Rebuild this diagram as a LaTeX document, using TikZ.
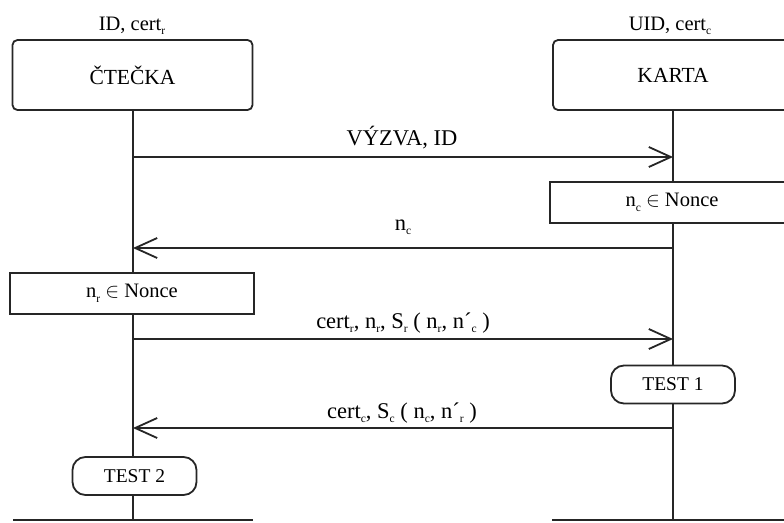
\documentclass[tikz,border=0pt]{standalone}
\usepackage{fontspec}
\setmainfont{Liberation Serif}
\usetikzlibrary{arrows.meta}
\newcommand\sbs[1]{\raisebox{-4.5pt}{\fontsize{11.5}{11.5}\selectfont #1}}
\begin{document}
\begin{tikzpicture}[x=1pt,y=-1pt, line width=1.8pt, draw=black!85,
  toplbl/.style={font=\fontsize{20.5}{22}\selectfont, anchor=base, inner sep=0pt},
  hdrbox/.style={draw, rounded corners=5pt, minimum width=240pt, minimum height=70pt, font=\fontsize{21.5}{24}\selectfont, inner sep=0pt},
  actbox/.style={draw, minimum width=244pt, minimum height=41pt, font=\fontsize{20.5}{22}\selectfont, inner sep=0pt},
  tstbox/.style={draw, rounded corners=13pt, minimum width=124pt, minimum height=38pt, font=\fontsize{19.5}{20}\selectfont, inner sep=0pt},
  msg/.style={-{Straight Barb[length=22pt,width=20pt]}},
  mlbl/.style={font=\fontsize{22.5}{24}\selectfont, anchor=base, inner sep=0pt}]
\useasboundingbox (0,0) rectangle (784,522);
\clip (0,0) rectangle (784,522);

% headers
\node[toplbl] (tl) at (132,30) {ID, cert\sbs{r}};
\node[toplbl] (tr) at (670,30) {UID, cert\sbs{c}};
\node[hdrbox] (ct) at (132.5,75) {ČTEČKA};
\node[hdrbox] (ka) at (673,75) {KARTA};

% actions
\node[actbox] (nc) at (672,202.5) {n\sbs{c} $\in$ Nonce};
\node[actbox] (nr) at (132,293.5) {n\sbs{r} $\in$ Nonce};
\node[tstbox] (t1) at (673,384.5) {TEST 1};
\node[tstbox] (t2) at (134.5,476) {TEST 2};

% lifeline ends
\coordinate (bL) at (133,520);
\coordinate (bR) at (673,520);
\coordinate (bL1) at (13,520);
\coordinate (bL2) at (253,520);
\coordinate (bR1) at (552,520);
\coordinate (bR2) at (795,520);

% lifelines
\draw (ct.south -| bL) -- (nr.north -| bL);
\draw (nr.south -| bL) -- (t2.north -| bL);
\draw (t2.south -| bL) -- (bL);
\draw (ka.south -| bR) -- (nc.north -| bR);
\draw (nc.south -| bR) -- (t1.north -| bR);
\draw (t1.south -| bR) -- (bR);
\draw (bL1) -- (bL2);
\draw (bR1) -- (bR2);

% message points
\coordinate (m1L) at (133,157); \coordinate (m1R) at (673,157);
\coordinate (m2L) at (133,248); \coordinate (m2R) at (673,248);
\coordinate (m3L) at (133,339); \coordinate (m3R) at (673,339);
\coordinate (m4L) at (133,428); \coordinate (m4R) at (673,428);

\draw[msg] (m1L) -- (m1R);
\draw[msg] (m2R) -- (m2L);
\draw[msg] (m3L) -- (m3R);
\draw[msg] (m4R) -- (m4L);

\node[mlbl] (l1) at (402,145) {VÝZVA, ID};
\node[mlbl] (l2) at (403,230) {n\sbs{c}};
\node[mlbl] (l3) at (403,328) {cert\sbs{r}, n\sbs{r}, S\sbs{r} ( n\sbs{r}, n´\sbs{c} )};
\node[mlbl] (l4) at (402,418) {cert\sbs{c}, S\sbs{c} ( n\sbs{c}, n´\sbs{r} )};
\end{tikzpicture}
\end{document}
